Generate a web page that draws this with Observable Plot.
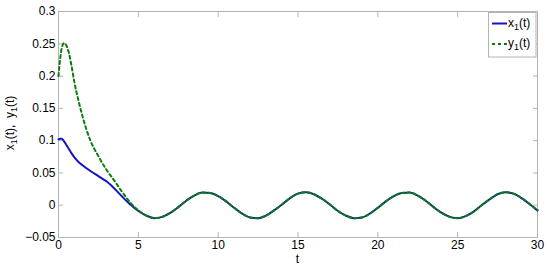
<!DOCTYPE html>
<html><head><meta charset="utf-8">
<script src="https://cdn.jsdelivr.net/npm/d3@7"></script>
<script src="https://cdn.jsdelivr.net/npm/@observablehq/plot@0.6"></script>
<style>
body{margin:0;background:#fff;}
#chart{position:relative;width:550px;height:266px;font-family:"Liberation Sans",Arial,Helvetica,sans-serif;}
#legend{position:absolute;left:488px;top:12px;}
</style></head><body><div id="chart"></div>
<script>
// transient part (t < 6)
const tTrans  = [0, 0.1, 0.2, 0.35, 0.5, 0.65, 0.8, 1.0, 1.25, 1.5, 2, 2.5, 3, 3.5, 4, 4.5, 5, 5.5];
const x1Trans = [0.102, 0.103, 0.103, 0.099, 0.093, 0.087, 0.081, 0.074, 0.067, 0.062, 0.053, 0.045, 0.037, 0.026, 0.013, 0.001, -0.009, -0.016];
const y1Trans = [0.200, 0.226, 0.243, 0.251, 0.247, 0.236, 0.218, 0.190, 0.162, 0.138, 0.100, 0.076, 0.055, 0.038, 0.020, 0.004, -0.008, -0.016];
// oscillating part (both curves coincide)
const tOsc = [6, 6.5, 7, 7.5, 8, 8.5, 9, 9.5, 10, 10.5, 11, 11.5, 12, 12.5, 13, 13.5, 14, 14.5, 15, 15.5, 16, 16.5, 17, 17.5, 18, 18.5, 19, 19.5, 20, 20.5, 21, 21.5, 22, 22.5, 23, 23.5, 24, 24.5, 25, 25.5, 26, 26.5, 27, 27.5, 28, 28.5, 29, 29.5, 30];
const oscVals = [-0.020, -0.018, -0.012, -0.003, 0.007, 0.015, 0.0195, 0.019, 0.014, 0.006, -0.004, -0.013, -0.019, -0.020, -0.016, -0.008, 0.001, 0.011, 0.018, 0.020, 0.017, 0.010, 0.001, -0.009, -0.016, -0.020, -0.019, -0.013, -0.004, 0.006, 0.014, 0.019, 0.0195, 0.015, 0.007, -0.003, -0.012, -0.018, -0.020, -0.017, -0.010, 0.000, 0.009, 0.017, 0.020, 0.018, 0.011, 0.002, -0.008];

const xTicks = [0, 5, 10, 15, 20, 25, 30];
const yTicks = [-0.05, 0, 0.05, 0.1, 0.15, 0.2, 0.25, 0.3];
const yTickLabels = ["\u22120.05", "0", "0.05", "0.1", "0.15", "0.2", "0.25", "0.3"];
const seriesNames = ["x", "y"];
const seriesColors = ["#1414c4", "#0c7c0c"];

const x1Data = tTrans.map((t, i) => ({t, v: x1Trans[i]})).concat(tOsc.map((t, i) => ({t, v: oscVals[i]})));
const y1Data = tTrans.map((t, i) => ({t, v: y1Trans[i]})).concat(tOsc.map((t, i) => ({t, v: oscVals[i]})));

const gray = "#b4b4b4";
const font = '"Liberation Sans",Arial,Helvetica,sans-serif';
const dash = "3,3";

const plot = Plot.plot({
  width: 550, height: 266,
  marginLeft: 58, marginRight: 13, marginTop: 11, marginBottom: 29,
  style: {fontFamily: font, fontSize: "12px", background: "#fff", color: "#000"},
  x: {domain: [0, 30]},
  y: {domain: [-0.05, 0.3]},
  marks: [
    Plot.frame({stroke: gray}),
    Plot.axisX(xTicks, {anchor: "bottom", tickSize: -5, tickPadding: 8, stroke: gray, fill: "#000", label: null, tickFormat: d => String(d)}),
    Plot.axisX(xTicks, {anchor: "top", tickSize: -5, tickPadding: 8, stroke: gray, label: null, tickFormat: () => ""}),
    Plot.axisY(yTicks, {anchor: "left", tickSize: -5, tickPadding: 8, stroke: gray, fill: "#000", label: null, tickFormat: d => yTickLabels[yTicks.indexOf(d)]}),
    Plot.axisY(yTicks, {anchor: "right", tickSize: -5, tickPadding: 8, stroke: gray, label: null, tickFormat: () => ""}),
    Plot.line(x1Data, {x: "t", y: "v", stroke: seriesColors[0], strokeWidth: 2, curve: "monotone-x"}),
    Plot.line(y1Data, {x: "t", y: "v", stroke: seriesColors[1], strokeWidth: 2, strokeDasharray: dash, curve: "monotone-x"})
  ]
});

const chart = document.getElementById("chart");
chart.appendChild(plot);

const svg = d3.select(plot);
// y label with subscripts
const yl = svg.append("text")
  .attr("transform", "translate(14,123) rotate(-90)")
  .attr("text-anchor", "middle")
  .attr("font-family", font).attr("font-size", 12).attr("fill", "#000");
yl.append("tspan").text("x");
yl.append("tspan").attr("dy", 3).attr("font-size", 9).text("1");
yl.append("tspan").attr("dy", -3).text("(t),\u00a0\u00a0y");
yl.append("tspan").attr("dy", 3).attr("font-size", 9).text("1");
yl.append("tspan").attr("dy", -3).text("(t)");

// x label
svg.append("text").attr("x", 297.5).attr("y", 263).attr("text-anchor", "middle")
  .attr("font-family", font).attr("font-size", 12).attr("fill", "#000").text("t");

// legend
const leg = d3.select(chart).append("svg").attr("id", "legend").attr("width", 49).attr("height", 46);
leg.append("rect").attr("x", 0.5).attr("y", 0.5).attr("width", 47.5).attr("height", 44.5)
  .attr("fill", "#fff").attr("stroke", gray);
seriesNames.forEach((n, i) => {
  const cy = 11.5 + i * 20.5;
  leg.append("line").attr("x1", 4).attr("x2", 19).attr("y1", cy).attr("y2", cy)
    .attr("stroke", seriesColors[i]).attr("stroke-width", 2)
    .attr("stroke-dasharray", i === 1 ? dash : null);
  const t = leg.append("text").attr("x", 20).attr("y", cy + 3)
    .attr("font-family", font).attr("font-size", 12).attr("fill", "#000");
  t.append("tspan").text(n);
  t.append("tspan").attr("dy", 3).attr("font-size", 9).text("1");
  t.append("tspan").attr("dy", -3).text("(t)");
});
</script></body></html>
